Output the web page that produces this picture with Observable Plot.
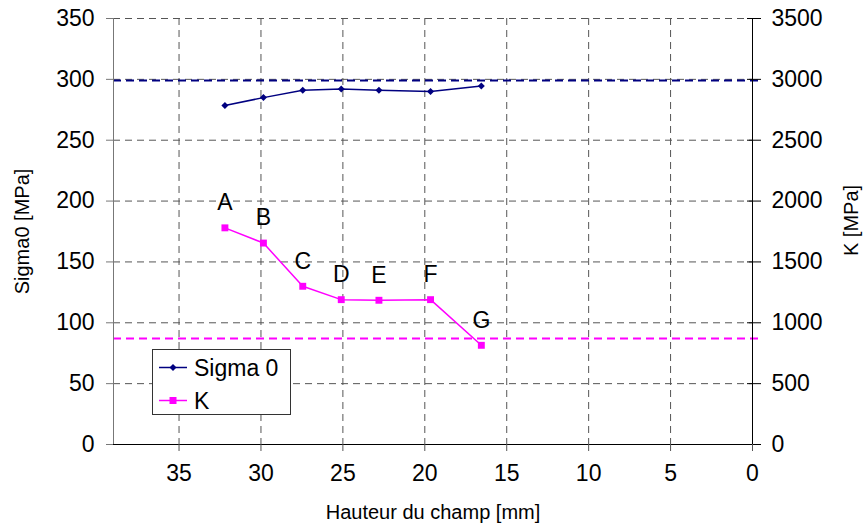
<!DOCTYPE html>
<html>
<head>
<meta charset="utf-8">
<script src="https://cdn.jsdelivr.net/npm/d3@7"></script>
<script src="https://cdn.jsdelivr.net/npm/@observablehq/plot@0.6"></script>
<style>
  html, body { margin: 0; padding: 0; background: white; }
  #chart { width: 865px; height: 530px; }
</style>
</head>
<body>
<div id="chart"></div>
<script>
// Field height [mm] (x)
const hauteur = [32.2, 29.85, 27.45, 25.1, 22.8, 19.65, 16.55];
// Sigma 0 [MPa] (left axis)
const sigma0 = [278.5, 285, 291, 292, 291, 290, 294.5];
// K [MPa] (right axis)
const kValues = [1780, 1655, 1300, 1190, 1185, 1190, 815];
const pointLabels = ["A", "B", "C", "D", "E", "F", "G"];
// Reference (dashed) levels
const sigmaRef = [299];
const kRef = [870];
// Axes
const xDomain = [39, 0];
const xTicks = [35, 30, 25, 20, 15, 10, 5, 0];
const yTicks = [0, 50, 100, 150, 200, 250, 300, 350];
const kRatio = 10; // right axis = left axis * 10
const xTitle = ["Hauteur du champ [mm]"];
const yTitle = ["Sigma0 [MPa]"];
const kTitle = ["K [MPa]"];
const legendNames = ["Sigma 0", "K"];

const data = hauteur.map((h, i) => ({h, s: sigma0[i], k: kValues[i] / kRatio, label: pointLabels[i]}));

const navy = "#000080";
const magenta = "#FF00FF";
const grid = "#555555";
const font = "'Liberation Sans', Arial, sans-serif";

const diamond = {
  draw(c, size) {
    const h = Math.sqrt(size / 2);
    c.moveTo(0, -h); c.lineTo(h, 0); c.lineTo(0, h); c.lineTo(-h, 0); c.closePath();
  }
};

const plot = Plot.plot({
  width: 865,
  height: 530,
  marginLeft: 113,
  marginRight: 113,
  marginTop: 18,
  marginBottom: 86,
  style: {fontFamily: font, fontSize: "20px", color: "black", background: "white"},
  x: {domain: xDomain},
  y: {domain: [0, 350]},
  marks: [
    Plot.gridX(xTicks.filter(d => d !== 0), {stroke: grid, strokeOpacity: 1, strokeDasharray: "7,5"}),
    Plot.gridY(yTicks.filter(d => d !== 0), {stroke: grid, strokeOpacity: 1, strokeDasharray: "7,5"}),
    Plot.ruleY(sigmaRef, {stroke: navy, strokeWidth: 2, strokeDasharray: "8,5", insetRight: -6}),
    Plot.ruleY(kRef.map(d => d / kRatio), {stroke: magenta, strokeWidth: 2, strokeDasharray: "8,5", insetRight: -6}),
    // axis lines
    Plot.ruleX([xDomain[0]], {stroke: "#777"}),
    Plot.ruleX([xDomain[1]], {stroke: "black"}),
    Plot.ruleY([0], {stroke: "black", insetLeft: -7, insetRight: -8}),
    // inner ticks of right axis
    Plot.ruleY(yTicks, {x1: xDomain[1], x2: xDomain[1], insetLeft: -5, stroke: "black"}),
    Plot.axisX(xTicks, {tickSize: 7, tickPadding: 13, stroke: "#555", label: null, fontSize: 23}),
    Plot.axisY(yTicks, {anchor: "left", tickSize: 7, tickPadding: 12, stroke: "#777", label: null, fontSize: 23}),
    Plot.axisY(yTicks, {anchor: "right", tickSize: 8, tickPadding: 11, stroke: "black", tickFormat: d => String(d * kRatio), label: null, fontSize: 23}),
    // axis titles
    Plot.text(xTitle, {frameAnchor: "bottom", textAnchor: "middle", dy: 68, lineAnchor: "middle", fontSize: 20}),
    Plot.text(yTitle, {frameAnchor: "left", textAnchor: "middle", dx: -91, rotate: -90, lineAnchor: "middle", fontSize: 20}),
    Plot.text(kTitle, {frameAnchor: "right", textAnchor: "middle", dx: 99, dy: -11, rotate: -90, lineAnchor: "middle", fontSize: 20}),
    // Sigma 0 series
    Plot.line(data, {x: "h", y: "s", stroke: navy, strokeWidth: 1.5}),
    Plot.dot(data, {x: "h", y: "s", symbol: diamond, r: 2.8, fill: navy, stroke: null}),
    // K series
    Plot.line(data, {x: "h", y: "k", stroke: magenta, strokeWidth: 1.5}),
    Plot.dot(data, {x: "h", y: "k", symbol: "square", r: 3.9, fill: magenta, stroke: null}),
    Plot.text(data, {x: "h", y: "k", text: "label", dy: -25, fontSize: 23, fill: "black"})
  ]
});

document.getElementById("chart").appendChild(plot);

// Legend box (inside plot area, lower-left)
const svg = d3.select(plot);
const lg = svg.append("g").attr("font-family", font).attr("font-size", 23).attr("text-anchor", "start");
lg.append("rect").attr("x", 152.5).attr("y", 349.5).attr("width", 138).attr("height", 65)
  .attr("fill", "white").attr("stroke", "#333");
const items = [
  {name: legendNames[0], color: navy, sym: diamond, size: 2 * 3.5 * 3.5},
  {name: legendNames[1], color: magenta, sym: d3.symbolSquare, size: 49}
];
items.forEach((it, i) => {
  const y = 367.5 + i * 33;
  lg.append("line").attr("x1", 159).attr("x2", 187).attr("y1", y).attr("y2", y)
    .attr("stroke", it.color).attr("stroke-width", 1.5);
  lg.append("path").attr("d", d3.symbol(it.sym, it.size)()).attr("transform", `translate(173,${y})`)
    .attr("fill", it.color);
  lg.append("text").attr("x", 194).attr("y", y).attr("dy", "0.35em").text(it.name);
});
</script>
</body>
</html>
